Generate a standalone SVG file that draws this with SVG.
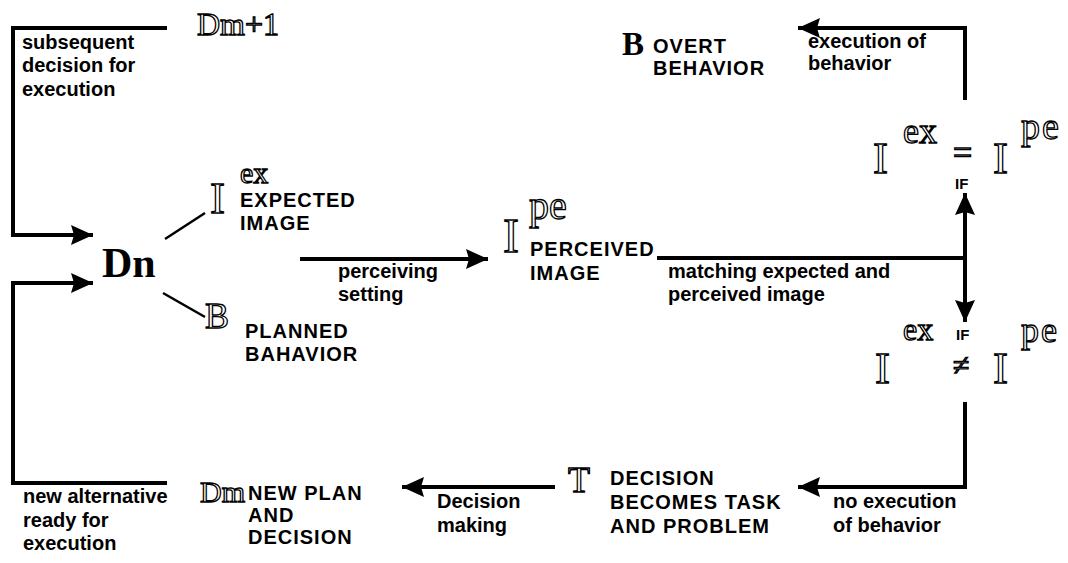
<svg xmlns="http://www.w3.org/2000/svg" width="1068" height="563" viewBox="0 0 1068 563">
<defs>
<marker id="ah" markerUnits="userSpaceOnUse" markerWidth="24" markerHeight="20" refX="22" refY="10" orient="auto">
<path d="M0,0 L22,10 L0,20 L3,10 Z" fill="#000"/>
</marker>
</defs>
<style>
.bg{fill:#fff}
.ln{fill:none;stroke:#000;stroke-width:4}
.thin{fill:none;stroke:#000;stroke-width:2.5}
.lab{font-family:"Liberation Sans",Arial,sans-serif;font-weight:bold;font-size:20px;fill:#000}
.cap{font-family:"Liberation Sans",Arial,sans-serif;font-weight:bold;font-size:20px;letter-spacing:1px;fill:#000}
.ol{font-family:"Liberation Serif","Times New Roman",serif;fill:#fff;stroke:#000;stroke-width:1.3}
.bs{font-family:"Liberation Serif","Times New Roman",serif;font-weight:bold;fill:#000}
.if{font-family:"Liberation Sans",Arial,sans-serif;font-weight:bold;font-size:15px;fill:#000}
</style>
<rect class="bg" x="0" y="0" width="1068" height="563"/>
<g id="connectors">
<path class="ln" d="M167,28 H13 V235 H93" marker-end="url(#ah)"/>
<path class="ln" d="M167,483 H13 V283 H93" marker-end="url(#ah)"/>
<line class="thin" x1="165" y1="239" x2="205" y2="213"/>
<line class="thin" x1="163" y1="293" x2="205" y2="317"/>
<path class="ln" d="M300,259 H488" marker-end="url(#ah)"/>
<path class="ln" d="M657,258 H965"/>
<path class="ln" d="M965,258 V193" marker-end="url(#ah)"/>
<path class="ln" d="M965,258 V322" marker-end="url(#ah)"/>
<path class="ln" d="M965,100 V28 H798" marker-end="url(#ah)"/>
<path class="ln" d="M965,402 V487 H798" marker-end="url(#ah)"/>
<path class="ln" d="M555,487 H402" marker-end="url(#ah)"/>
<text class="lab" x="22" y="49">subsequent</text>
<text class="lab" x="22" y="72">decision for</text>
<text class="lab" x="22" y="96">execution</text>
<text class="lab" x="338" y="278">perceiving</text>
<text class="lab" x="338" y="301">setting</text>
<text class="lab" x="668" y="278">matching expected and</text>
<text class="lab" x="668" y="301">perceived image</text>
<text class="lab" x="808" y="48" font-size="17">execution of</text>
<text class="lab" x="808" y="70" font-size="17">behavior</text>
<text class="lab" x="833" y="508">no execution</text>
<text class="lab" x="833" y="532">of behavior</text>
<text class="lab" x="437" y="508">Decision</text>
<text class="lab" x="437" y="532">making</text>
<text class="lab" x="23" y="503">new alternative</text>
<text class="lab" x="23" y="527">ready for</text>
<text class="lab" x="23" y="550">execution</text>
</g>
<g id="node-dm1">
<text class="ol" x="197" y="35" font-size="32">Dm+1</text>
</g>
<g id="node-dn">
<text class="bs" x="102" y="277" font-size="42">Dn</text>
</g>
<g id="node-iex">
<text class="ol" x="210" y="213" font-size="45">I</text>
<text class="ol" x="240" y="183" font-size="30">ex</text>
<text class="cap" x="240" y="207">EXPECTED</text>
<text class="cap" x="240" y="230">IMAGE</text>
</g>
<g id="node-bplan">
<text class="ol" x="205" y="328" font-size="36">B</text>
<text class="cap" x="245" y="338">PLANNED</text>
<text class="cap" x="245" y="361">BAHAVIOR</text>
</g>
<g id="node-ipe">
<text class="ol" x="503" y="252" font-size="48">I</text>
<text class="ol" x="529" y="219" font-size="40">pe</text>
<text class="cap" x="530" y="256">PERCEIVED</text>
<text class="cap" x="530" y="280">IMAGE</text>
</g>
<g id="node-equal">
<text class="ol" x="873" y="173" font-size="45">I</text>
<text class="ol" x="903" y="143" font-size="36">ex</text>
<text class="ol" x="953" y="164" font-size="34">=</text>
<text class="if" x="955" y="189">IF</text>
<text class="ol" x="993" y="173" font-size="45">I</text>
<text class="ol" x="1021" y="139" font-size="38" letter-spacing="2">pe</text>
</g>
<g id="node-notequal">
<text class="ol" x="875" y="383" font-size="45">I</text>
<text class="ol" x="903" y="340" font-size="32">ex</text>
<text class="if" x="956" y="340">IF</text>
<text class="ol" x="953" y="375" font-size="30">≠</text>
<text class="ol" x="993" y="383" font-size="45">I</text>
<text class="ol" x="1021" y="342" font-size="36" letter-spacing="2">pe</text>
</g>
<g id="node-overt">
<text class="bs" x="622" y="55" font-size="33">B</text>
<text class="cap" x="653" y="53">OVERT</text>
<text class="cap" x="653" y="75">BEHAVIOR</text>
</g>
<g id="node-task">
<text class="ol" x="568" y="492" font-size="36">T</text>
<text class="cap" x="610" y="485">DECISION</text>
<text class="cap" x="610" y="509">BECOMES TASK</text>
<text class="cap" x="610" y="533">AND PROBLEM</text>
</g>
<g id="node-dm">
<text class="ol" x="200" y="502" font-size="30">Dm</text>
<text class="cap" x="248" y="500">NEW PLAN</text>
<text class="cap" x="248" y="522">AND</text>
<text class="cap" x="248" y="544">DECISION</text>
</g>
</svg>
